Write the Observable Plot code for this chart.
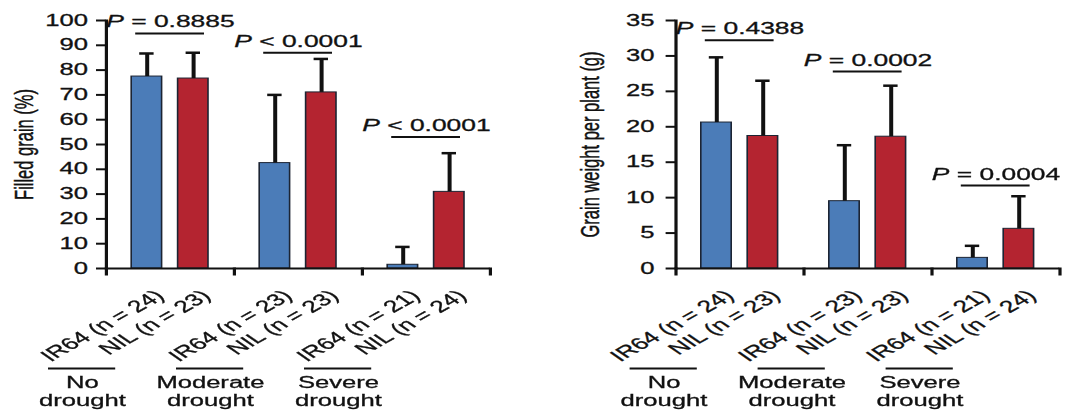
<!DOCTYPE html>
<html><head><meta charset="utf-8">
<script src="https://cdn.jsdelivr.net/npm/d3@7"></script>
<script src="https://cdn.jsdelivr.net/npm/@observablehq/plot@0.6"></script>
<style>
html,body{margin:0;padding:0;background:#fff;overflow:hidden}
#wrap{display:flex;width:668.75px;transform:scaleX(1.6);transform-origin:0 0}
#wrap svg{flex:none}
#wrap svg text{stroke:#111;stroke-width:0.3px}
</style></head><body><div id="wrap"></div>
<script>
const groups = ["No drought", "Moderate drought", "Severe drought"];
const groupLabels = ["No\ndrought", "Moderate\ndrought", "Severe\ndrought"];
const genotypes = ["IR64", "NIL"];
const colors = ["#4b7cb8", "#b42430"];
const sampleSizes = [[24, 23], [23, 23], [21, 24]];

// Filled grain (%): mean and SD per bar (IR64, NIL per condition)
const filledMean = [77.4, 76.6, 42.5, 71.0, 1.5, 30.9];
const filledSD = [9.3, 10.4, 27.5, 13.5, 7.2, 15.6];
const filledP = ["P = 0.8885", "P < 0.0001", "P < 0.0001"];
const filledBracket = [94.8, 87, 53];
const filledTicks = [0, 10, 20, 30, 40, 50, 60, 70, 80, 90, 100];

// Grain weight per plant (g)
const weightMean = [20.6, 18.7, 9.5, 18.6, 1.5, 5.6];
const weightSD = [9.2, 7.8, 7.9, 7.2, 1.7, 4.6];
const weightP = ["P = 0.4388", "P = 0.0002", "P = 0.0004"];
const weightBracket = [32.2, 27.8, 11.7];
const weightTicks = [0, 5, 10, 15, 20, 25, 30, 35];

const FONT = "'Liberation Sans', Arial, Helvetica, sans-serif";

function panel({means, sds, brackets, pLabels, yDomain, yTicks, title, width, marginLeft, marginRight, labelDx, groupDx, titleDx}) {
  const bars = [];
  groups.forEach((g, i) => genotypes.forEach((t, j) => {
    const k = i * 2 + j;
    bars.push({group: g, genotype: t, n: sampleSizes[i][j], mean: means[k], top: means[k] + sds[k]});
  }));
  const anno = groups.map((g, i) => ({group: g, y: brackets[i], p: pLabels[i], label: groupLabels[i]}));
  const tickData = yTicks.map(v => ({group: groups[0], v}));
  const H = 415, mt = 20, mb = 147;
  const plotH = H - mt - mb;
  return Plot.plot({
    width, height: H, marginTop: mt, marginBottom: mb, marginLeft, marginRight,
    style: {fontFamily: FONT, fontSize: "16px", color: "#111", background: "white", overflow: "visible"},
    fx: {domain: groups, padding: 0, axis: null, label: null},
    x: {domain: genotypes, paddingInner: 0.33, paddingOuter: 0.5, axis: null, label: null},
    y: {domain: yDomain, axis: null},
    color: {domain: genotypes, range: colors},
    marks: [
      Plot.barY(bars, {fx: "group", x: "genotype", y: "mean", fill: "genotype", stroke: "#1c2433", strokeWidth: 1}),
      Plot.ruleX(bars, {fx: "group", x: "genotype", y1: "mean", y2: "top", stroke: "#111", strokeWidth: 2.5}),
      Plot.tickY(bars, {fx: "group", x: "genotype", y: "top", stroke: "#111", strokeWidth: 2.5, insetLeft: 5, insetRight: 5}),
      Plot.ruleY([0], {stroke: "#111", strokeWidth: 2}),
      Plot.frame({anchor: "left", facetAnchor: "left", stroke: "#111", strokeWidth: 2}),
      Plot.frame({anchor: "left", insetTop: plotH, insetBottom: -6, stroke: "#111", strokeWidth: 2}),
      Plot.frame({anchor: "right", facetAnchor: "right", insetTop: plotH, insetBottom: -6, stroke: "#111", strokeWidth: 2}),
      Plot.axisY(yTicks, {tickSize: 6, stroke: "#111", strokeWidth: 2, fill: "none", label: null}),
      Plot.text(tickData, {fx: "group", y: "v", text: d => String(d.v), frameAnchor: "left", textAnchor: "end", lineAnchor: "middle", dx: labelDx, fontSize: 16, fill: "#111"}),
      Plot.text([{group: groups[0]}], {fx: "group", frameAnchor: "left", text: () => title, rotate: -90, dx: titleDx, textAnchor: "middle", lineAnchor: "middle", fontSize: 16.5, fill: "#111"}),
      Plot.ruleY(anno, {fx: "group", y: "y", insetLeft: 18.5, insetRight: 18.5, stroke: "#111", strokeWidth: 2}),
      Plot.text(anno, {fx: "group", y: "y", text: "p", dy: -6, lineAnchor: "bottom", textAnchor: "middle", fontSize: 16.5, fill: "#111"}),
      Plot.text(bars, {fx: "group", x: "genotype", frameAnchor: "bottom", text: d => `${d.genotype} (n = ${d.n})`, rotate: -42, textAnchor: "end", lineAnchor: "middle", dx: 8, dy: 25, fontSize: 16.5, fill: "#111"}),
      Plot.ruleY([0], {dy: 100, dx: groupDx, insetLeft: 19, insetRight: 19, stroke: "#111", strokeWidth: 2}),
      Plot.text(anno, {fx: "group", frameAnchor: "bottom", text: "label", lineAnchor: "top", lineHeight: 1.15, dy: 106, dx: groupDx, textAnchor: "middle", fontSize: 16, fill: "#111"})
    ]
  });
}

const wrap = document.getElementById("wrap");
wrap.append(panel({means: filledMean, sds: filledSD, brackets: filledBracket, pLabels: filledP, yDomain: [0, 100], yTicks: filledTicks, title: "Filled grain (%)", width: 334.375, marginLeft: 65, marginRight: 27, labelDx: -11.5, groupDx: -55, titleDx: -51}));
wrap.append(panel({means: weightMean, sds: weightSD, brackets: weightBracket, pLabels: weightP, yDomain: [0, 35], yTicks: weightTicks, title: "Grain weight per plant (g)", width: 334.375, marginLeft: 88, marginRight: 5.4, labelDx: -13.5, groupDx: -47.5, titleDx: -53.6}));

// italic P in the P-value labels
d3.selectAll("#wrap svg text").each(function() {
  const t = this.textContent;
  if (/^P [=<]/.test(t) && this.children.length === 0) {
    const rest = t.slice(1);
    this.textContent = "";
    d3.select(this).append("tspan").attr("font-style", "italic").text("P");
    d3.select(this).append("tspan").text(rest);
  }
});
</script></body></html>
